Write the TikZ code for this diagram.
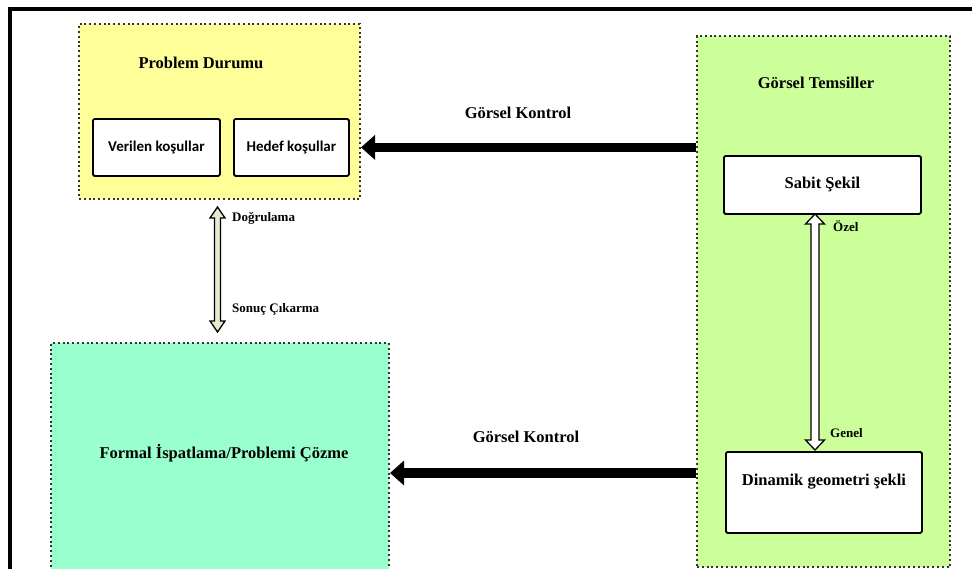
\documentclass[tikz,border=0pt]{standalone}
\usepackage{fontspec}
\setmainfont{Liberation Serif}
\newfontfamily\calib{Carlito}
\usetikzlibrary{arrows.meta,calc}
\definecolor{yelfill}{RGB}{255,255,153}
\definecolor{grnfill}{RGB}{204,255,153}
\definecolor{tealfill}{RGB}{153,255,204}
\definecolor{arrfill}{RGB}{228,235,208}
\newcommand{\hollowdbl}[6]{%
  \draw[fill=#6, line width=1.3pt, line join=miter] let \p1=(#1), \p2=(#2) in
    (\x1,\y1) -- (\x1-#4,\y1-#5) -- (\x1-#3,\y1-#5) -- (\x1-#3,\y2+#5) --
    (\x1-#4,\y2+#5) -- (\x1,\y2) -- (\x1+#4,\y2+#5) -- (\x1+#3,\y2+#5) --
    (\x1+#3,\y1-#5) -- (\x1+#4,\y1-#5) -- cycle;}
\tikzset{
  dotbox/.style={draw=black!80, line width=2pt, dash pattern=on 2pt off 2.8pt,
    anchor=north west, inner sep=0pt},
  whitebox/.style={draw, fill=white, line width=1.8pt, rounded corners=1.5pt,
    anchor=north west, inner sep=0pt},
  title/.style={font=\fontsize{16.5}{19}\selectfont\bfseries, inner sep=0pt},
  small/.style={font=\fontsize{13}{15}\selectfont\bfseries, inner sep=0pt, anchor=west},
  sanslbl/.style={font=\calib\fontsize{15}{18}\selectfont\bfseries, inner sep=0pt},
  bigarrow/.style={line width=9.5pt, -{Triangle[length=14pt,width=24pt]}},
}
\begin{document}
\begin{tikzpicture}[x=1pt,y=-1pt]
\useasboundingbox (0,0) rectangle (972,568);
% outer frame
\draw[line width=3.6pt] (980,9) -- (10,9) -- (10,580);
% containers
\node[dotbox, fill=yelfill, minimum width=281pt, minimum height=175pt] (yellow) at (78,23) {};
\node[dotbox, fill=grnfill, minimum width=253pt, minimum height=531pt] (green) at (696,35) {};
\node[dotbox, fill=tealfill, minimum width=338pt, minimum height=240pt] (teal) at (50,342) {};
% titles
\node[title] (pd) at (201,63) {Problem Durumu};
\node[title] (gt) at (816,83) {Görsel Temsiller};
\node[title] (fi) at (224,453) {Formal İspatlama/Problemi Çözme};
% inner boxes
\node[whitebox, minimum width=127pt, minimum height=57pt] (ver) at (92,118) {};
\node[sanslbl] at (ver.center) {Verilen koşullar};
\node[whitebox, minimum width=115pt, minimum height=57pt] (hed) at (233,118) {};
\node[sanslbl] at (hed.center) {Hedef koşullar};
\node[whitebox, minimum width=197pt, minimum height=58pt] (sab) at (723,155) {};
\node[title] at (sab.center) {Sabit Şekil};
\node[whitebox, minimum width=196pt, minimum height=81pt] (din) at (725,451) {};
\node[title] at (824,482) {Dinamik geometri şekli};
% horizontal arrows
\coordinate (a1s) at (green.west |- hed.east);
\coordinate (a1e) at (yellow.east |- hed.east);
\draw[bigarrow] (a1s) -- (a1e);
\node[title] (gk1) at (518,113) {Görsel Kontrol};
\coordinate (a2y) at (0,473);
\draw[bigarrow] (green.west |- a2y) -- (teal.east |- a2y);
\node[title] (gk2) at (526,437) {Görsel Kontrol};
% vertical hollow double arrows
\coordinate (lt) at (217.5,207);
\coordinate (lb) at (217.5,332);
\hollowdbl{lt}{lb}{3pt}{7.5pt}{11pt}{arrfill}
\node[small] (dog) at (232,218) {Doğrulama};
\node[small] (soc) at (232,309) {Sonuç Çıkarma};
\coordinate (rt) at (815,214);
\coordinate (rb) at (815,450);
\hollowdbl{rt}{rb}{4pt}{9.5pt}{10pt}{white}
\node[small] (oz) at (833,226) {Özel};
\node[small] (gn) at (830,433) {Genel};
\end{tikzpicture}
\end{document}
